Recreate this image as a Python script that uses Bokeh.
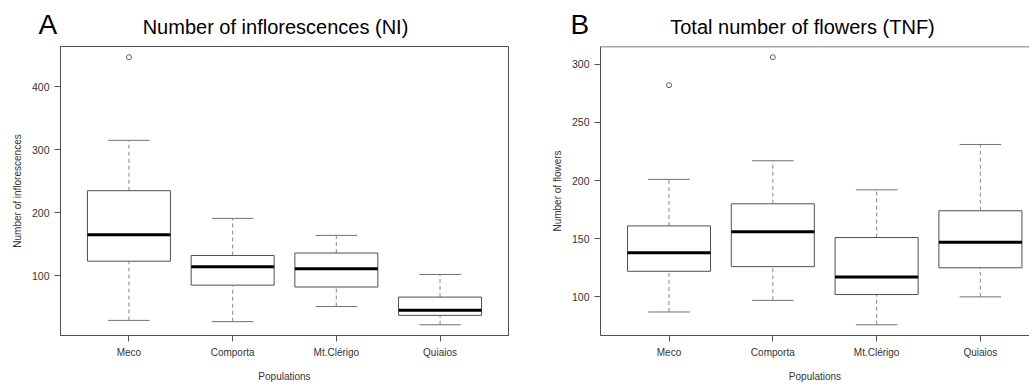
from bokeh.plotting import figure
from bokeh.layouts import row, column
from bokeh.models import FixedTicker, Span, Range1d
from bokeh.core.properties import value
from bokeh.embed import file_html
from bokeh.resources import INLINE

# ---------------- data ----------------
populations = ["Meco", "Comporta", "Mt.Clérigo", "Quiaios"]

ni_lower = [29, 27, 51, 22]
ni_q1 = [123, 85, 82, 37]
ni_median = [165, 114, 111, 45]
ni_q3 = [235, 132, 136, 66]
ni_upper = [315, 191, 164, 102]
ni_out_pop = ["Meco"]
ni_out_val = [447]
ni_ticks = [100, 200, 300, 400]

tnf_lower = [87, 97, 76, 100]
tnf_q1 = [122, 126, 102, 125]
tnf_median = [138, 156, 117, 147]
tnf_q3 = [161, 180, 151, 174]
tnf_upper = [201, 217, 192, 231]
tnf_out_pop = ["Meco", "Comporta"]
tnf_out_val = [282, 306]
tnf_ticks = [100, 150, 200, 250, 300]

panel_letters = ["A", "B"]
panel_titles = ["Number of inflorescences (NI)", "Total number of flowers (TNF)"]

FONT = "Liberation Sans"
BOX_COL = "#505050"
WHISK_COL = "#9a9a9a"
CAP_COL = "#707070"
HEADER_H = 46
TOTAL_W = 1027


def make_header():
    h = figure(width=TOTAL_W, height=HEADER_H, x_range=Range1d(0, TOTAL_W),
               y_range=Range1d(0, HEADER_H), min_border=0,
               toolbar_location=None, output_backend="svg", tools="")
    h.xaxis.visible = False
    h.yaxis.visible = False
    h.grid.visible = False
    h.outline_line_color = None
    h.text(x=[38, 570], y=[HEADER_H - 23.5] * 2, text=panel_letters, text_align="left",
           text_baseline="middle", text_font=value(FONT),
           text_font_size=value("28px"), text_color="black")
    h.text(x=[275, 802], y=[HEADER_H - 26] * 2, text=panel_titles, text_align="center",
           text_baseline="middle", text_font=value(FONT),
           text_font_size=value("20px"), text_color="black")
    return h


def make_panel(ylabel, lower, q1, med, q3, upper, out_pop, out_val,
               yticks, frame_w, x_end, min_left, min_right, full_frame):
    xs = list(range(1, len(populations) + 1))
    allv = lower + upper + out_val
    lo, hi = min(allv), max(allv)
    pad = 0.04 * (hi - lo)
    p = figure(frame_width=frame_w, frame_height=289,
               x_range=Range1d(0.34, x_end), y_range=Range1d(lo - pad, hi + pad),
               min_border_left=min_left, min_border_right=min_right,
               min_border_top=0, min_border_bottom=46,
               toolbar_location=None, output_backend="svg", tools="")
    p.grid.visible = False
    if full_frame:
        p.outline_line_color = BOX_COL
        p.outline_line_width = 1
    else:
        p.outline_line_color = None
        p.add_layout(Span(location=hi + pad, dimension="width",
                          line_color=BOX_COL, line_width=1.5))

    # whiskers (dashed)
    p.segment(x0=xs, y0=q3, x1=xs, y1=upper, line_color=WHISK_COL,
              line_width=1.2, line_dash="4 3")
    p.segment(x0=xs, y0=lower, x1=xs, y1=q1, line_color=WHISK_COL,
              line_width=1.2, line_dash="4 3")
    # caps
    p.segment(x0=[x - 0.2 for x in xs], y0=upper, x1=[x + 0.2 for x in xs], y1=upper,
              line_color=CAP_COL, line_width=1)
    p.segment(x0=[x - 0.2 for x in xs], y0=lower, x1=[x + 0.2 for x in xs], y1=lower,
              line_color=CAP_COL, line_width=1)
    # boxes
    p.quad(left=[x - 0.4 for x in xs], right=[x + 0.4 for x in xs], bottom=q1, top=q3,
           fill_color="white", line_color=BOX_COL, line_width=1)
    # medians
    p.segment(x0=[x - 0.4 for x in xs], y0=med, x1=[x + 0.4 for x in xs], y1=med,
              line_color="black", line_width=3)
    # outliers
    ox = [populations.index(n) + 1 for n in out_pop]
    p.scatter(ox, out_val, marker="circle", size=5, fill_color=None,
              line_color="#606060", line_width=1)

    for ax in (p.xaxis[0], p.yaxis[0]):
        ax.major_tick_in = 0
        ax.major_tick_out = 6
        ax.minor_tick_line_color = None
        ax.major_tick_line_color = "#555555"
        ax.axis_line_color = BOX_COL
        ax.major_label_text_font = FONT
        ax.major_label_text_color = "#333333"
        ax.axis_label_text_font = FONT
        ax.axis_label_text_font_style = "normal"
        ax.axis_label_text_color = "#333333"
        ax.axis_label_text_font_size = "10px"
        ax.major_label_standoff = 5

    p.xaxis.ticker = FixedTicker(ticks=xs)
    p.xaxis.major_label_overrides = {x: n for x, n in zip(xs, populations)}
    p.xaxis.major_label_text_font_size = "10px"
    p.xaxis.axis_label = "Populations"
    p.xaxis.axis_label_standoff = 10

    p.yaxis.ticker = FixedTicker(ticks=yticks)
    p.yaxis.major_label_text_font_size = "10.5px"
    p.yaxis.major_label_orientation = "horizontal"
    p.yaxis.axis_label = ylabel
    p.yaxis.axis_label_standoff = 6
    return p


header = make_header()
pA = make_panel("Number of inflorescences",
                ni_lower, ni_q1, ni_median, ni_q3, ni_upper, ni_out_pop, ni_out_val,
                ni_ticks, 448, 4.66, 60, 40, True)
pB = make_panel("Number of flowers",
                tnf_lower, tnf_q1, tnf_median, tnf_q3, tnf_upper, tnf_out_pop, tnf_out_val,
                tnf_ticks, 429, 0.34 + 429 / 103.8, 50, 0, False)

layout = column(header, row(pA, pB))
open("out.html", "w").write(file_html(layout, INLINE))
